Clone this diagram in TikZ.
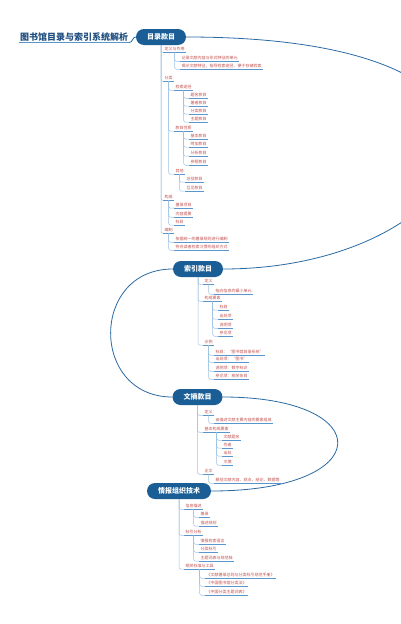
\documentclass[tikz,border=0pt]{standalone}
\usepackage{fontspec}
\newfontfamily\cjk{Noto Sans CJK SC}
\definecolor{rootblue}{HTML}{1B5E96}
\definecolor{titleblue}{HTML}{1F4E80}
\definecolor{mainline}{HTML}{2A6AA3}
\definecolor{branchline}{HTML}{9CC2E2}
\definecolor{uline}{HTML}{5A96CC}
\definecolor{leafred}{HTML}{C0504D}

\begin{document}
\begin{tikzpicture}[x=1pt,y=-1pt]
\tikzset{root/.style = {rounded corners=8pt,fill=rootblue,text=white,minimum height=16pt,inner xsep=11pt,font=\cjk\bfseries\fontsize{7}{8}\selectfont}}
\tikzset{title/.style = {text=titleblue,inner sep=1pt,font=\cjk\bfseries\fontsize{9}{10}\selectfont,
  append after command={(\tikzlastnode.south west) edge[draw=uline,line width=0.8pt] (\tikzlastnode.south east)}}}
\tikzset{topic/.style = {anchor=west,text=leafred,inner xsep=1.5pt,inner ysep=1.2pt,font=\cjk\fontsize{4}{5}\selectfont,
  append after command={(\tikzlastnode.south west) edge[draw=uline,line width=0.45pt] (\tikzlastnode.south east)}}}
\tikzset{branch/.style = {draw=branchline,line width=0.5pt,rounded corners=2pt}}
\tikzset{link/.style = {draw=mainline,line width=0.8pt}}
\fill[white] (0,0) rectangle (400,624);
\useasboundingbox (0,0) rectangle (400,624);
% main topics
\node[title] (t) at (74,37) {图书馆目录与索引系统解析};
\node[root] (r1) at (161,37) {目录款目};
\node[root] (r2) at (198,269) {索引款目};
\node[root] (r3) at (197.5,397) {文摘款目};
\node[root] (r4) at (179,491) {情报组织技术};
% 目录款目
\node[topic] (a1) at (163,49) {定义与作用};
\node[topic] (a11) at (180,58) {记录文献内容与形式特征的单元};
\node[topic] (a12) at (180,66) {揭示文献特征，指导检索途径，便于存储检索};
\node[topic] (a2) at (163,78) {分类};
\node[topic] (a21) at (174,87) {检索途径};
\node[topic] (a211) at (189,95) {题名款目};
\node[topic] (a212) at (189,103) {著者款目};
\node[topic] (a213) at (189,111) {分类款目};
\node[topic] (a214) at (189,119) {主题款目};
\node[topic] (a22) at (174,128) {款目性质};
\node[topic] (a221) at (189,136) {基本款目};
\node[topic] (a222) at (189,144) {附加款目};
\node[topic] (a223) at (189,153) {分析款目};
\node[topic] (a224) at (189,162) {参照款目};
\node[topic] (a23) at (174,171) {其他};
\node[topic] (a231) at (185,179) {总括款目};
\node[topic] (a232) at (185,188) {互见款目};
\node[topic] (a3) at (163,197) {构成};
\node[topic] (a31) at (174,205) {著录项目};
\node[topic] (a32) at (174,214) {内容提要};
\node[topic] (a33) at (174,222) {标目};
\node[topic] (a4) at (163,230) {编制};
\node[topic] (a41) at (174,239) {依据统一的著录规则进行编制};
\node[topic] (a42) at (174,247) {符合读者检索习惯的组织方式};
% 索引款目
\node[topic] (b1) at (203,281) {定义};
\node[topic] (b11) at (214,291) {指向信息的最小单元};
\node[topic] (b2) at (203,298) {构成要素};
\node[topic] (b21) at (218,307) {标目};
\node[topic] (b22) at (218,316) {出处项};
\node[topic] (b23) at (218,325) {说明项};
\node[topic] (b24) at (218,333) {参见项};
\node[topic] (b3) at (203,342) {示例};
\node[topic] (b31) at (214,352) {标目：“图书馆目录系统”};
\node[topic] (b32) at (214,359) {出处项：“图书”};
\node[topic] (b33) at (214,368) {说明项：数字标识};
\node[topic] (b34) at (214,376) {参见项：相关条目};
% 文摘款目
\node[topic] (c1) at (203,412) {定义};
\node[topic] (c11) at (214,420) {由描述文献主要内容的要素组成};
\node[topic] (c2) at (203,429) {基本构成要素};
\node[topic] (c21) at (222,437) {文献题名};
\node[topic] (c22) at (222,445) {作者};
\node[topic] (c23) at (222,453) {出处};
\node[topic] (c24) at (222,462) {文摘};
\node[topic] (c3) at (203,471) {正文};
\node[topic] (c31) at (214,480) {概括文献内容、观点、结论、数据等};
% 情报组织技术
\node[topic] (d1) at (184,506) {信息描述};
\node[topic] (d11) at (199,514) {著录};
\node[topic] (d12) at (199,523) {描述规则};
\node[topic] (d2) at (184,532) {标引分析};
\node[topic] (d21) at (199,541) {情报检索语言};
\node[topic] (d22) at (199,549) {分类标引};
\node[topic] (d23) at (199,558) {主题词表与规范档};
\node[topic] (d3) at (184,566) {相关标准与工具};
\node[topic] (d31) at (205,575) {《文献著录总则与分类标引规范手册》};
\node[topic] (d32) at (205,583) {《中国图书馆分类法》};
\node[topic] (d33) at (205,592) {《中国分类主题词表》};
% main links
\draw[link] (t.south east) to[out=0,in=180] (r1.west);
\draw[link] (r1.east) .. controls (600,37) and (480,269) .. (r2.east);
\draw[link] (r2.west) .. controls (90,269) and (90,397) .. (r3.west);
\draw[link] (r3.east) .. controls (378,397) and (378,491) .. (r4.east);
% branches
\draw[branch] (r1.south) |- (a1.south west);
\draw[branch] (r1.south) |- (a2.south west);
\draw[branch] (r1.south) |- (a3.south west);
\draw[branch] (r1.south) |- (a4.south west);
\draw[branch] (a1.south) |- (a11.south west);
\draw[branch] (a1.south) |- (a12.south west);
\draw[branch] (a2.south) |- (a21.south west);
\draw[branch] (a2.south) |- (a22.south west);
\draw[branch] (a2.south) |- (a23.south west);
\draw[branch] (a21.south) |- (a211.south west);
\draw[branch] (a21.south) |- (a212.south west);
\draw[branch] (a21.south) |- (a213.south west);
\draw[branch] (a21.south) |- (a214.south west);
\draw[branch] (a22.south) |- (a221.south west);
\draw[branch] (a22.south) |- (a222.south west);
\draw[branch] (a22.south) |- (a223.south west);
\draw[branch] (a22.south) |- (a224.south west);
\draw[branch] (a23.south) |- (a231.south west);
\draw[branch] (a23.south) |- (a232.south west);
\draw[branch] (a3.south) |- (a31.south west);
\draw[branch] (a3.south) |- (a32.south west);
\draw[branch] (a3.south) |- (a33.south west);
\draw[branch] (a4.south) |- (a41.south west);
\draw[branch] (a4.south) |- (a42.south west);
\draw[branch] (r2.south) |- (b1.south west);
\draw[branch] (r2.south) |- (b2.south west);
\draw[branch] (r2.south) |- (b3.south west);
\draw[branch] (b1.south) |- (b11.south west);
\draw[branch] (b2.south) |- (b21.south west);
\draw[branch] (b2.south) |- (b22.south west);
\draw[branch] (b2.south) |- (b23.south west);
\draw[branch] (b2.south) |- (b24.south west);
\draw[branch] (b3.south) |- (b31.south west);
\draw[branch] (b3.south) |- (b32.south west);
\draw[branch] (b3.south) |- (b33.south west);
\draw[branch] (b3.south) |- (b34.south west);
\draw[branch] (r3.south) |- (c1.south west);
\draw[branch] (r3.south) |- (c2.south west);
\draw[branch] (r3.south) |- (c3.south west);
\draw[branch] (c1.south) |- (c11.south west);
\draw[branch] (c2.south) |- (c21.south west);
\draw[branch] (c2.south) |- (c22.south west);
\draw[branch] (c2.south) |- (c23.south west);
\draw[branch] (c2.south) |- (c24.south west);
\draw[branch] (c3.south) |- (c31.south west);
\draw[branch] (r4.south) |- (d1.south west);
\draw[branch] (r4.south) |- (d2.south west);
\draw[branch] (r4.south) |- (d3.south west);
\draw[branch] (d1.south) |- (d11.south west);
\draw[branch] (d1.south) |- (d12.south west);
\draw[branch] (d2.south) |- (d21.south west);
\draw[branch] (d2.south) |- (d22.south west);
\draw[branch] (d2.south) |- (d23.south west);
\draw[branch] (d3.south) |- (d31.south west);
\draw[branch] (d3.south) |- (d32.south west);
\draw[branch] (d3.south) |- (d33.south west);
\end{tikzpicture}
\end{document}
